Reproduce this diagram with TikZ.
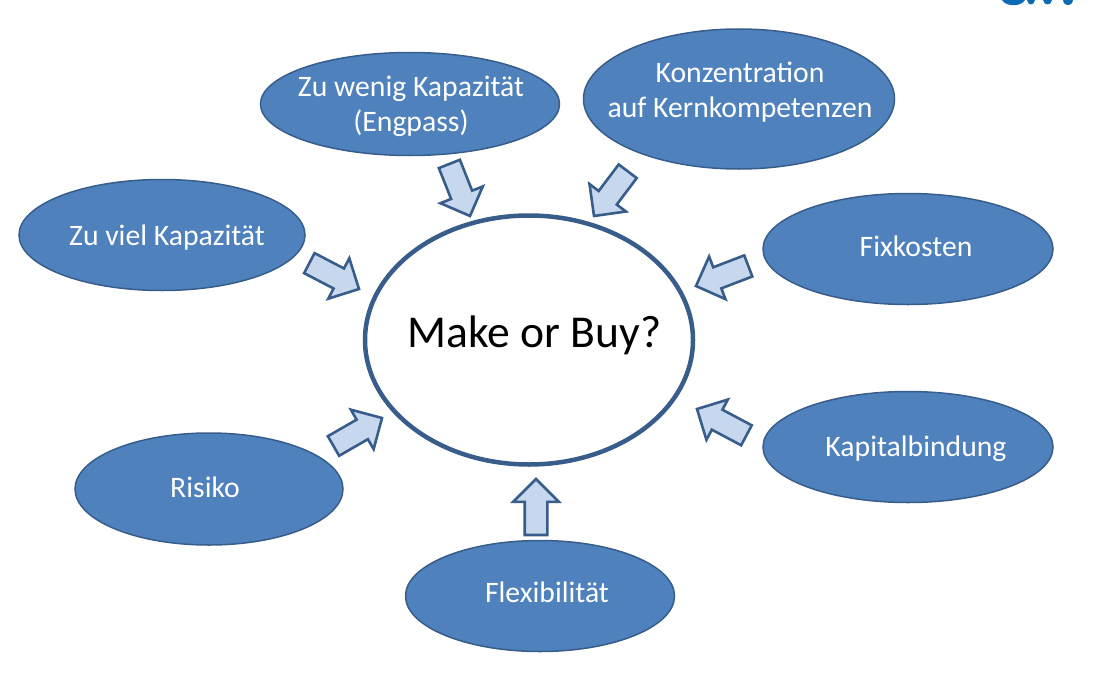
\documentclass[tikz,border=0pt]{standalone}
\usepackage{fontspec}
\setmainfont{Carlito}
\usetikzlibrary{shapes.geometric,shapes.arrows}
\definecolor{fillblue}{HTML}{4F81BD}
\definecolor{edgeblue}{HTML}{385D8A}
\definecolor{lightblue}{HTML}{C6D7EE}
\definecolor{logoblue}{HTML}{0B6BB5}
\newcommand{\shaftgauge}{\rule{0pt}{20pt}}
\tikzset{
  x=1pt,y=-1pt,
  topic/.style={ellipse,draw=edgeblue,line width=1.5pt,fill=fillblue,inner sep=0pt,outer sep=0pt},
  topictext/.style={text=white,align=center,inner sep=0pt,font=\fontsize{29.7}{35}\selectfont},
  hub/.style={ellipse,draw=edgeblue,line width=4.5pt,fill=white,inner sep=0pt,outer sep=0pt,minimum width=328pt,minimum height=249pt},
  hubtext/.style={text=black,inner sep=0pt,font=\fontsize{45.6}{54}\selectfont},
  blockarrow/.style={single arrow,draw=edgeblue,line width=2.6pt,fill=lightblue,inner sep=0pt,outer sep=0pt,single arrow head extend=11.5pt,single arrow tip angle=90,single arrow head indent=0pt,anchor=tip,minimum height=56pt},
}
\begin{document}
\begin{tikzpicture}
\useasboundingbox (0,0) rectangle (1110,685);
\fill[logoblue] (1002,0) .. controls (1006,7) and (1021,7) .. (1025,0) -- cycle;
\fill[logoblue] (1027,0) .. controls (1028,6) and (1034,6) .. (1035,0) -- cycle;
\fill[logoblue] (1043,0) .. controls (1044,6) and (1051,6) .. (1052,0) -- cycle;
\fill[logoblue] (1063,0) .. controls (1064,7) and (1072,7) .. (1073,0) -- cycle;
\node[hub,label={[hubtext,xshift=5.5pt,yshift=4.5pt]center:Make or Buy?}] (hub) at (529,340) {};
\node[topic,minimum width=299pt,minimum height=103pt,label={[topictext,xshift=1pt,yshift=-2.5pt]center:Zu wenig Kapazität\\(Engpass)}] (wenig) at (410,104) {};
\node[topic,minimum width=311pt,minimum height=140pt,label={[topictext,xshift=1pt,yshift=7pt]center:Konzentration\\auf Kernkompetenzen}] (konz) at (739,99) {};
\node[topic,minimum width=286pt,minimum height=111pt,label={[topictext,xshift=5pt,yshift=-3pt]center:Zu viel Kapazität}] (viel) at (162,235) {};
\node[topic,minimum width=290pt,minimum height=111pt,label={[topictext,xshift=8pt,yshift=3pt]center:Fixkosten}] (fix) at (908,249) {};
\node[topic,minimum width=290pt,minimum height=111pt,label={[topictext,xshift=8pt,yshift=-2pt]center:Kapitalbindung}] (kap) at (908,447) {};
\node[topic,minimum width=268pt,minimum height=112pt,label={[topictext,xshift=-4pt,yshift=2pt]center:Risiko}] (ris) at (209,489) {};
\node[topic,minimum width=269pt,minimum height=111pt,label={[topictext,xshift=7pt,yshift=4pt]center:Flexibilität}] (flex) at (540,596) {};
\node[blockarrow,rotate=-68.4] (a1) at (470,216) {\shaftgauge};
\node[blockarrow,rotate=-127] (a2) at (594,216) {\shaftgauge};
\node[blockarrow,rotate=-27.5] (a3) at (359,289) {\shaftgauge};
\node[blockarrow,rotate=30] (a4) at (382,418) {\shaftgauge};
\node[blockarrow,rotate=90] (a5) at (536,479) {\shaftgauge};
\node[blockarrow,rotate=152] (a6) at (697,409) {\shaftgauge};
\node[blockarrow,rotate=201] (a7) at (696,286) {\shaftgauge};
\end{tikzpicture}
\end{document}
